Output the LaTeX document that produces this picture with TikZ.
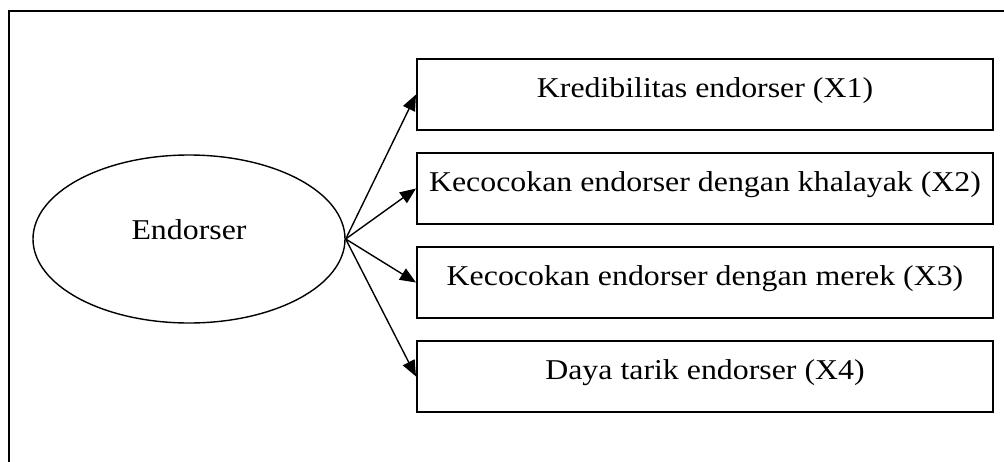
\documentclass[tikz,border=0pt]{standalone}
\usepackage{fontspec}
\setmainfont[FakeStretch = 1.11]{Liberation Serif}
\usetikzlibrary{arrows.meta}
\usetikzlibrary{positioning}
\usetikzlibrary{shapes.geometric}
\tikzset{kotak/.style = {draw, line width = 2pt, minimum width = 576pt, inner sep = 0, text height = 38pt, text depth = 33pt, font = \fontsize{28.7}{34}\selectfont}}
\tikzset{panah/.style = {-{Triangle[length = 16pt, width = 13pt]}, line width = 1.4pt}}

\begin{document}
\begin{tikzpicture}[x = 1pt, y = -1pt]
      \useasboundingbox (0, 0) rectangle (1004, 461);
      \draw [line width = 2pt] (9, 480) |- (1020, 11);

      \node [draw, ellipse, line width = 1.4pt, minimum width = 312pt, minimum height = 168pt, inner sep = 0, text height = 20pt, text depth = 20pt, font = \fontsize{28.7}{34}\selectfont] (endorser) at (189, 239) {Endorser};

      \node [kotak] (x1) at (705, 94.5) {Kredibilitas endorser (X1)};
      \node [kotak, below = 21pt of x1] (x2) {Kecocokan endorser dengan khalayak (X2)};
      \node [kotak, below = 21pt of x2] (x3) {Kecocokan endorser dengan merek (X3)};
      \node [kotak, below = 21pt of x3] (x4) {Daya tarik endorser (X4)};

      \foreach \k in {x1, x2, x3, x4}
        \draw [panah] (endorser.east) -- (\k.west);
    \end{tikzpicture}
\end{document}
